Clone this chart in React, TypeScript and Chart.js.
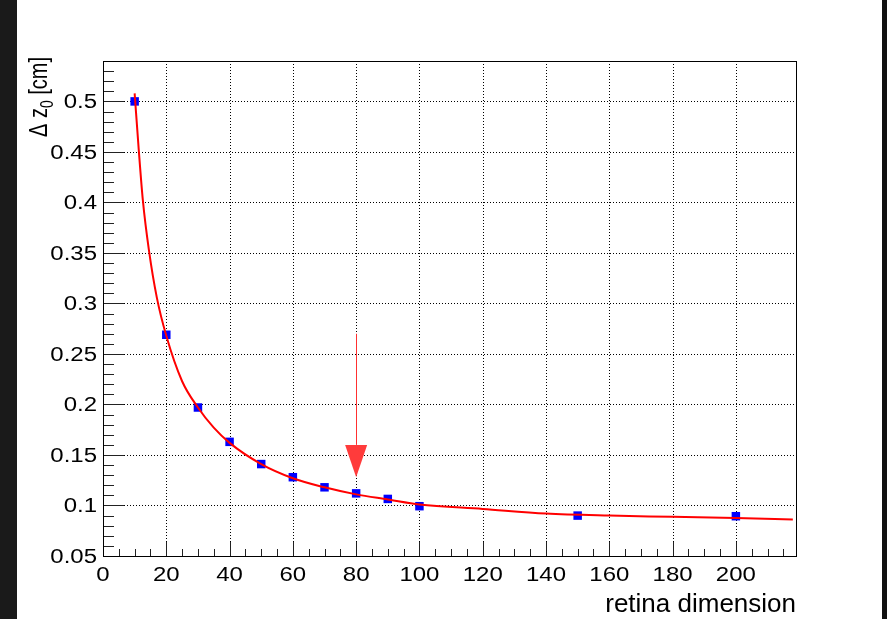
import { useEffect, useRef } from 'react';
import { Chart, registerables } from 'chart.js';

Chart.register(...registerables);

// Measured resolution vs. retina dimension
const RETINA_DIM = [10, 20, 30, 40, 50, 60, 70, 80, 90, 100, 150, 200];
const DELTA_Z0 = [0.5, 0.269, 0.197, 0.163, 0.141, 0.128, 0.118, 0.112, 0.1065, 0.0993, 0.09, 0.0894];

// Fitted curve, sampled along the x range
const FIT_X = [10, 11.3, 12.6, 14.5, 17, 20, 25, 30, 35, 40, 50, 60, 70, 80, 90, 100, 120, 140, 160, 180, 200, 218];
const FIT_Y = [0.508, 0.452, 0.402, 0.353, 0.306, 0.268, 0.223, 0.197, 0.177, 0.162, 0.141, 0.127, 0.118, 0.111, 0.106, 0.101, 0.0966, 0.092, 0.09, 0.0888, 0.0875, 0.0862];

// Axis ranges and tick values
const X_MIN = 0;
const X_MAX = 219;
const Y_MIN = 0.05;
const Y_MAX = 0.54;
const X_TICKS = [0, 20, 40, 60, 80, 100, 120, 140, 160, 180, 200];
const Y_TICKS = [0.05, 0.1, 0.15, 0.2, 0.25, 0.3, 0.35, 0.4, 0.45, 0.5];
const X_TICK_LABELS = ['0', '20', '40', '60', '80', '100', '120', '140', '160', '180', '200'];
const Y_TICK_LABELS = ['0.05', '0.1', '0.15', '0.2', '0.25', '0.3', '0.35', '0.4', '0.45', '0.5'];
const X_MINOR_STEP = 5;
const Y_MINOR_STEP = 0.01;

// Arrow marking the chosen dimension
const ARROW_X = 80;
const ARROW_FROM = 0.27;
const ARROW_HEAD_BASE = 0.16;
const ARROW_TIP = 0.128;

const X_TITLE = 'retina dimension';
const FONT = '"Liberation Sans", Arial, Helvetica, sans-serif';
// labels are rendered slightly wide
const LABEL_STRETCH = 1.17;

const framePlugin = {
  id: 'rootFrame',
  beforeDatasetsDraw(chart: any) {
    const { ctx, chartArea: a, scales } = chart;
    const xs = scales.x;
    const ys = scales.y;
    ctx.save();
    // dotted grid at major ticks
    ctx.strokeStyle = '#000';
    ctx.lineWidth = 1;
    ctx.setLineDash([1, 2]);
    ctx.beginPath();
    for (const v of X_TICKS) {
      const px = Math.round(xs.getPixelForValue(v)) + 0.5;
      ctx.moveTo(px, a.top);
      ctx.lineTo(px, a.bottom);
    }
    for (const v of Y_TICKS) {
      const py = Math.round(ys.getPixelForValue(v)) + 0.5;
      ctx.moveTo(a.left, py);
      ctx.lineTo(a.right, py);
    }
    ctx.stroke();
    ctx.setLineDash([]);
    // tick marks pointing into the frame
    ctx.strokeStyle = '#222';
    ctx.beginPath();
    const nx = Math.floor((X_MAX - X_MIN) / X_MINOR_STEP + 1e-6);
    for (let i = 0; i <= nx; i++) {
      const v = X_MIN + i * X_MINOR_STEP;
      const major = X_TICKS.includes(v);
      const px = Math.round(xs.getPixelForValue(v)) + 0.5;
      ctx.moveTo(px, a.bottom);
      ctx.lineTo(px, a.bottom - (major ? 14 : 7));
    }
    const ny = Math.floor((Y_MAX - Y_MIN) / Y_MINOR_STEP + 1e-6);
    for (let i = 0; i <= ny; i++) {
      const v = +(Y_MIN + i * Y_MINOR_STEP).toFixed(4);
      const major = Y_TICKS.some((t) => Math.abs(t - v) < 1e-6);
      const py = Math.round(ys.getPixelForValue(v)) + 0.5;
      ctx.moveTo(a.left, py);
      ctx.lineTo(a.left + (major ? 21 : 11), py);
    }
    ctx.stroke();
    ctx.restore();
  },
  afterDatasetsDraw(chart: any) {
    const { ctx, chartArea: a, scales } = chart;
    const xs = scales.x;
    const ys = scales.y;
    ctx.save();
    // arrow
    const ax = xs.getPixelForValue(ARROW_X);
    const y0 = ys.getPixelForValue(ARROW_FROM);
    const yb = ys.getPixelForValue(ARROW_HEAD_BASE);
    const yt = ys.getPixelForValue(ARROW_TIP);
    ctx.strokeStyle = '#ff3030';
    ctx.lineWidth = 1;
    ctx.beginPath();
    ctx.moveTo(Math.round(ax) + 0.5, y0);
    ctx.lineTo(Math.round(ax) + 0.5, yb);
    ctx.stroke();
    ctx.fillStyle = '#ff3b3b';
    ctx.beginPath();
    ctx.moveTo(ax - 11, yb);
    ctx.lineTo(ax + 11, yb);
    ctx.lineTo(ax, yt);
    ctx.closePath();
    ctx.fill();
    // frame
    ctx.strokeStyle = '#000';
    ctx.lineWidth = 1;
    ctx.strokeRect(Math.round(a.left) + 0.5, Math.round(a.top) + 0.5, Math.round(a.right - a.left), Math.round(a.bottom - a.top));
    ctx.restore();
  },
  afterDraw(chart: any) {
    const { ctx, chartArea: a, scales } = chart;
    const xs = scales.x;
    const ys = scales.y;
    ctx.save();
    ctx.fillStyle = '#000';
    // tick labels
    ctx.font = `20.5px ${FONT}`;
    ctx.textAlign = 'right';
    ctx.textBaseline = 'middle';
    Y_TICKS.forEach((v, i) => {
      ctx.save();
      ctx.translate(a.left - 6, ys.getPixelForValue(v) + 1);
      ctx.scale(LABEL_STRETCH, 1);
      ctx.fillText(Y_TICK_LABELS[i], 0, 0);
      ctx.restore();
    });
    ctx.textAlign = 'center';
    ctx.textBaseline = 'top';
    X_TICKS.forEach((v, i) => {
      ctx.save();
      ctx.translate(xs.getPixelForValue(v), a.bottom + 9);
      ctx.scale(LABEL_STRETCH, 1);
      ctx.fillText(X_TICK_LABELS[i], 0, 0);
      ctx.restore();
    });
    // x title, right aligned to the axis end
    ctx.font = `26px ${FONT}`;
    ctx.textAlign = 'right';
    ctx.textBaseline = 'alphabetic';
    ctx.fillText(X_TITLE, a.right, 612);
    // y title with subscript, right aligned to the axis top
    const big = `26px ${FONT}`;
    const small = `18px ${FONT}`;
    ctx.font = big;
    const w1 = ctx.measureText('\u0394 z').width;
    const w3 = ctx.measureText(' [cm]').width;
    ctx.font = small;
    const w2 = ctx.measureText('0').width;
    const total = w1 + w2 + w3;
    ctx.translate(47, a.top - 4);
    ctx.rotate(-Math.PI / 2);
    ctx.scale(0.77, 1);
    ctx.textAlign = 'left';
    let x = -total;
    ctx.font = big;
    ctx.fillText('\u0394 z', x, 0);
    x += w1;
    ctx.font = small;
    ctx.fillText('0', x, 6);
    x += w2;
    ctx.font = big;
    ctx.fillText(' [cm]', x, 0);
    ctx.restore();
  },
};

export default function App() {
  const canvasRef = useRef<HTMLCanvasElement>(null);

  useEffect(() => {
    document.body.style.margin = '0';
    const canvas = canvasRef.current;
    if (!canvas) return;
    const chart = new Chart(canvas, {
      type: 'scatter',
      data: {
        datasets: [
          {
            type: 'line',
            label: 'fit',
            data: FIT_X.map((x, i) => ({ x, y: FIT_Y[i] })),
            borderColor: '#ff0000',
            borderWidth: 2,
            pointRadius: 0,
            cubicInterpolationMode: 'monotone',
            fill: false,
            order: 0,
          } as any,
          {
            label: '\u0394 z0',
            data: RETINA_DIM.map((x, i) => ({ x, y: DELTA_Z0[i] })),
            pointStyle: 'rect',
            pointRadius: 6,
            backgroundColor: '#0000ff',
            borderWidth: 0,
            order: 1,
          },
        ],
      },
      options: {
        responsive: false,
        animation: false,
        layout: { padding: { top: 61, right: 91, left: 0, bottom: 0 } },
        plugins: { legend: { display: false }, tooltip: { enabled: false } },
        scales: {
          x: {
            type: 'linear',
            min: X_MIN,
            max: X_MAX,
            grid: { display: false, drawTicks: false },
            border: { display: false },
            afterBuildTicks: (s: any) => {
              s.ticks = X_TICKS.map((v) => ({ value: v }));
            },
            afterFit: (s: any) => {
              s.height = 63;
            },
            ticks: { display: false },
          },
          y: {
            type: 'linear',
            min: Y_MIN,
            max: Y_MAX,
            grid: { display: false, drawTicks: false },
            border: { display: false },
            afterBuildTicks: (s: any) => {
              s.ticks = Y_TICKS.map((v) => ({ value: v }));
            },
            afterFit: (s: any) => {
              s.width = 103;
            },
            ticks: { display: false },
          },
        },
      },
      plugins: [framePlugin],
    });
    return () => chart.destroy();
  }, []);

  return (
    <div style={{ position: 'fixed', left: 0, top: 0, width: 887, height: 619, background: '#ffffff' }}>
      <div style={{ position: 'absolute', left: 0, top: 0, width: 17, height: 619, background: '#1a1a1a' }} />
      <div style={{ position: 'absolute', left: 882, top: 0, width: 5, height: 619, background: '#111111' }} />
      <canvas ref={canvasRef} width={887} height={619} style={{ position: 'absolute', left: 0, top: 0 }} />
    </div>
  );
}
